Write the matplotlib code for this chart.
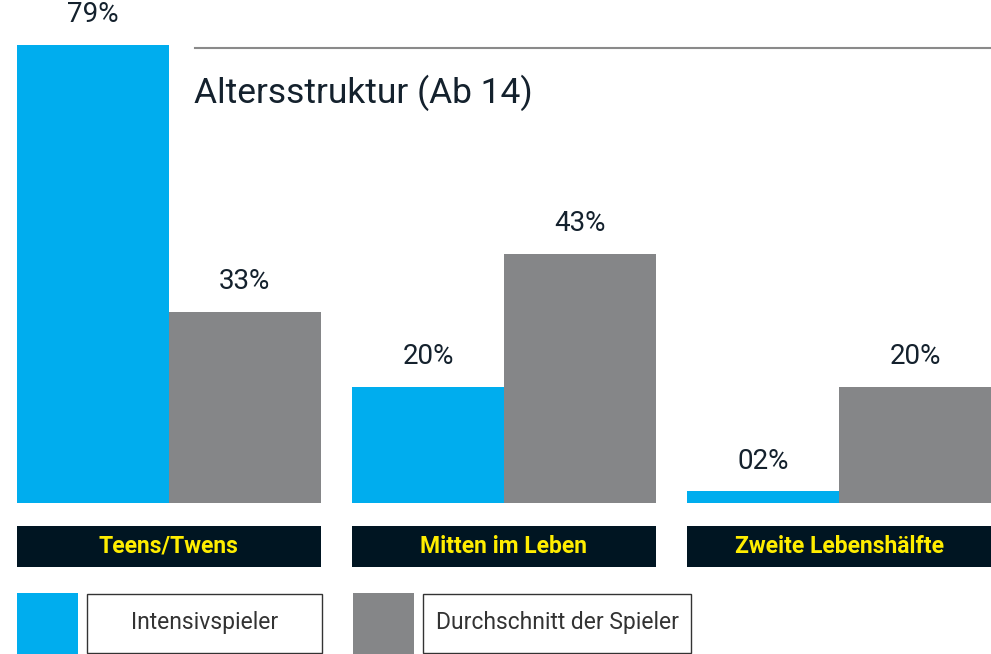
import matplotlib
matplotlib.use("Agg")
import matplotlib.pyplot as plt
from matplotlib.patches import Rectangle
from matplotlib.transforms import blended_transform_factory

# data
categories = ["Teens/Twens", "Mitten im Leben", "Zweite Lebenshälfte"]
intensiv = [79, 20, 2]
durchschnitt = [33, 43, 20]
series_names = ["Intensivspieler", "Durchschnitt der Spieler"]
title = "Altersstruktur (Ab 14)"

blue = "#00adee"
gray = "#858688"
navy = "#001522"
yellow = "#ffed00"
txt = "#14212d"

plt.rcParams["font.family"] = ["Roboto", "DejaVu Sans"]

W, H = 991, 654
fig = plt.figure(figsize=(W / 100, H / 100), dpi=100)

# bar axes (baseline at y=503 px)
ax = fig.add_axes([17 / W, (H - 503) / H, 974 / W, 464 / H])
bw = 0.453
x = list(range(len(categories)))
b1 = ax.bar([i - bw / 2 for i in x], intensiv, width=bw, color=blue, linewidth=0)
b2 = ax.bar([i + bw / 2 for i in x], durchschnitt, width=bw, color=gray, linewidth=0)
for bars, vals in [(b1, intensiv), (b2, durchschnitt)]:
    ax.bar_label(bars, labels=[f"{v:02d}%" for v in vals], padding=12,
                 fontsize=20, color=txt)
ax.set_xlim(-bw, len(categories) - 1 + bw)
ax.set_ylim(0, 80)
ax.axis("off")

# overlay in pixel coords for boxes, title, legend
ov = fig.add_axes([0, 0, 1, 1])
ov.set_xlim(0, W)
ov.set_ylim(H, 0)
ov.axis("off")
ov.patch.set_alpha(0)

trans = blended_transform_factory(ax.transData, ov.transData)
for i, cat in enumerate(categories):
    ov.add_patch(Rectangle((i - bw, 526), 2 * bw, 41, transform=trans,
                           facecolor=navy, edgecolor="none"))
    ov.text(i, 546.5, cat, transform=trans, ha="center", va="center",
            color=yellow, fontsize=16.5, fontweight="bold")

# title and rule
ov.plot([195, 991], [48, 48], color="#8a8a8a", linewidth=1.5)
ov.text(194, 103, title, ha="left", va="baseline", fontsize=25.5, color=txt)

# legend
legend_spec = [(17, 87, 235, blue), (353, 423, 268, gray)]
for (sx, bx, bwid, col), name in zip(legend_spec, series_names):
    ov.add_patch(Rectangle((sx, 593), 61, 61, facecolor=col, edgecolor="none"))
    ov.add_patch(Rectangle((bx, 593.5), bwid, 59.5, facecolor="white",
                           edgecolor="#333333", linewidth=1))
    ov.text(bx + bwid / 2, 622, name, ha="center", va="center",
            fontsize=16.5, color="#333333")

fig.savefig("out.png", dpi=100)
